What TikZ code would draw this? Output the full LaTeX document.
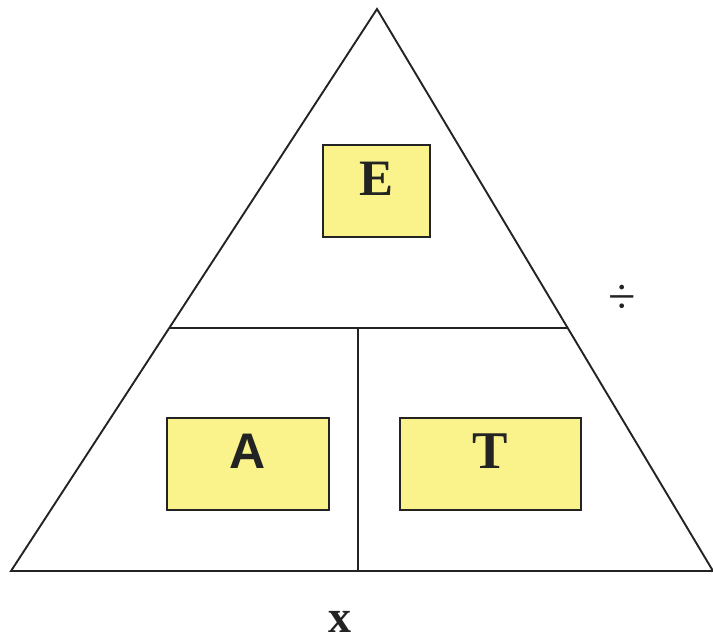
\documentclass[tikz,border=0pt]{standalone}
\usepackage{fontspec}
\setmainfont{Liberation Serif}
\newfontfamily\arialfont{Liberation Sans}
\definecolor{boxyellow}{RGB}{250,243,140}
\definecolor{inkgray}{RGB}{35,35,35}
\begin{document}
\begin{tikzpicture}
[x=1pt, y=-1pt, line width=1.9pt, draw=inkgray,
letter box/.style={draw=inkgray, fill=boxyellow, line width=1.5pt, inner sep=0pt, text depth=25pt, text=inkgray},
sign/.style={inner sep=0pt, text=inkgray}]
\useasboundingbox (0,0) rectangle (713,637);
\coordinate (top) at (377,9);
\coordinate (left) at (11,571);
\coordinate (right) at (713,571);
\coordinate (midleft) at (170,328);
\coordinate (midright) at (568,328);
\coordinate (midbottom) at (358,571);
\coordinate (midcentre) at (358,328);

\node[letter box, minimum width=107pt, minimum height=92pt, font=\fontsize{51}{51}\selectfont\bfseries] (e) at (376.5,191) {E};
\node[letter box, minimum width=162pt, minimum height=92pt, font=\fontsize{50}{50}\selectfont\arialfont\bfseries] (a) at (248,464) {A};
\node[letter box, minimum width=181pt, minimum height=92pt, font=\fontsize{53}{53}\selectfont\bfseries] (t) at (490.5,464) {T};

\node[sign, font=\fontsize{50}{50}\selectfont] (divide) at (622,299) {÷};
\node[sign, font=\fontsize{46}{46}\selectfont\bfseries] (times) at (340,621.5) {x};

\draw[inkgray] (top) -- (left) -- (right) -- cycle;
\draw[inkgray] (midleft) -- (midright);
\draw[inkgray] (midcentre) -- (midbottom);
\end{tikzpicture}
\end{document}
